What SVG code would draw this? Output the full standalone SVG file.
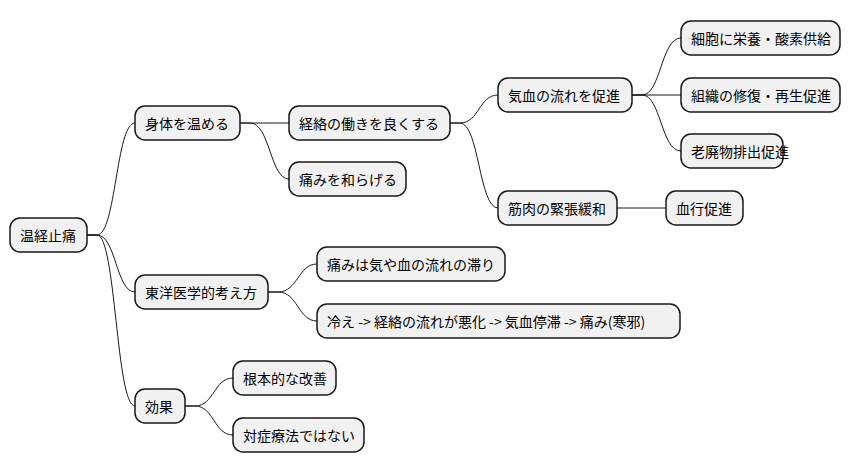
<svg xmlns="http://www.w3.org/2000/svg" width="852" height="471" viewBox="0 0 852 471">
<style>
.n rect{fill:#f1f1f1;stroke:#181818;stroke-width:1.5}
.n text{font-family:"Noto Sans CJK JP","Liberation Sans",sans-serif;font-size:14px;fill:#000;dominant-baseline:central}
#c path{fill:none;stroke:#181818;stroke-width:1}
</style>
<rect width="852" height="471" fill="#fff"/>
<g id="c">
<path d="M87,235 L97,235 C116,235 116,123 135,123"/>
<path d="M87,235 L97,235 C116,235 116,292 135,292"/>
<path d="M87,235 L97,235 C116,235 116,406 135,406"/>
<path d="M240,123 L260,123 C275,123 275,123 289,123"/>
<path d="M240,123 L250,123 C270,123 270,179 289,179"/>
<path d="M450,123 L460,123 C479,123 479,95 498,95"/>
<path d="M450,123 L460,123 C479,123 479,208 498,208"/>
<path d="M632,95 L642,95 C661,95 661,38 681,38"/>
<path d="M632,95 L681,95"/>
<path d="M632,95 L642,95 C661,95 661,151 681,151"/>
<path d="M617,208 L666,208"/>
<path d="M268,292 L278,292 C298,292 298,264 317,264"/>
<path d="M268,292 L278,292 C298,292 298,321 317,321"/>
<path d="M185,406 L195,406 C214,406 214,378 233,378"/>
<path d="M185,406 L195,406 C214,406 214,435 233,435"/>
</g>
<g id="n1" class="n"><rect x="10" y="218" width="77" height="34" rx="10"/><text x="20" y="235">温経止痛</text></g>
<g id="n2" class="n"><rect x="135" y="106" width="105" height="34" rx="10"/><text x="145" y="123">身体を温める</text></g>
<g id="n3" class="n"><rect x="289" y="106" width="161" height="34" rx="10"/><text x="299" y="123">経絡の働きを良くする</text></g>
<g id="n4" class="n"><rect x="289" y="162" width="117" height="34" rx="10"/><text x="299" y="179">痛みを和らげる</text></g>
<g id="n5" class="n"><rect x="498" y="78" width="134" height="34" rx="10"/><text x="508" y="95">気血の流れを促進</text></g>
<g id="n6" class="n"><rect x="498" y="191" width="119" height="34" rx="10"/><text x="508" y="208">筋肉の緊張緩和</text></g>
<g id="n7" class="n"><rect x="681" y="21" width="159" height="34" rx="10"/><text x="691" y="38">細胞に栄養・酸素供給</text></g>
<g id="n8" class="n"><rect x="681" y="78" width="159" height="34" rx="10"/><text x="691" y="95">組織の修復・再生促進</text></g>
<g id="n9" class="n"><rect x="681" y="134" width="102" height="34" rx="10"/><text x="691" y="151">老廃物排出促進</text></g>
<g id="n10" class="n"><rect x="666" y="191" width="77" height="34" rx="10"/><text x="676" y="208">血行促進</text></g>
<g id="n11" class="n"><rect x="135" y="275" width="133" height="34" rx="10"/><text x="145" y="292">東洋医学的考え方</text></g>
<g id="n12" class="n"><rect x="317" y="247" width="188" height="34" rx="10"/><text x="327" y="264">痛みは気や血の流れの滞り</text></g>
<g id="n13" class="n"><rect x="317" y="304" width="363" height="34" rx="10"/><text x="327" y="321">冷え -&gt; 経絡の流れが悪化 -&gt; 気血停滞 -&gt; 痛み(寒邪)</text></g>
<g id="n14" class="n"><rect x="135" y="389" width="50" height="34" rx="10"/><text x="145" y="406">効果</text></g>
<g id="n15" class="n"><rect x="233" y="361" width="103" height="34" rx="10"/><text x="243" y="378">根本的な改善</text></g>
<g id="n16" class="n"><rect x="233" y="418" width="131" height="34" rx="10"/><text x="243" y="435">対症療法ではない</text></g>
</svg>
